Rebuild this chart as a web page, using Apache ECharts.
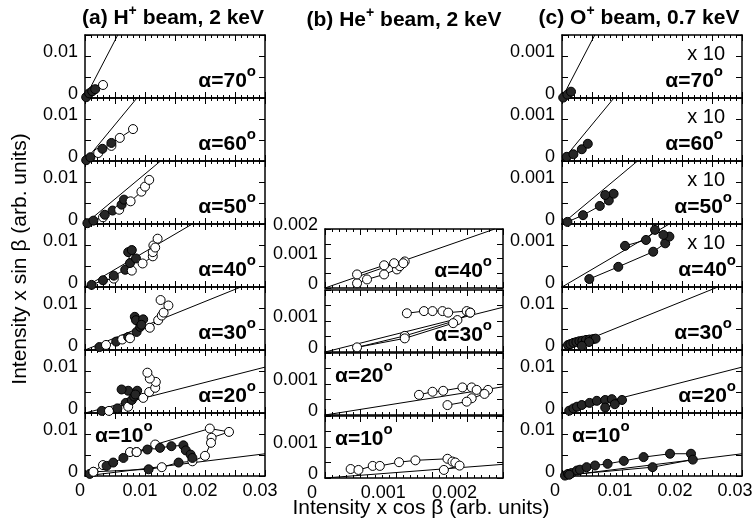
<!DOCTYPE html>
<html><head><meta charset="utf-8">
<script src="https://cdn.jsdelivr.net/npm/echarts@6.0.0/dist/echarts.min.js"></script>
<style>html,body{margin:0;padding:0;background:#fff}#c{width:756px;height:526px}</style>
</head><body><div id="c"></div>
<script>
// ---------- DATA (x, y, filled flag; null = break in trace) ----------
const anglesA = [70, 60, 50, 40, 30, 20, 10];
const anglesB = [40, 30, 20, 10];
const anglesC = [70, 60, 50, 40, 30, 20, 10];

const a70 = [[0.0002,0.0002,1],[0.0007,0.0011,1],[0.0012,0.0016,1],[0.0017,0.0021,1],[0.003,0.0031,0]];
const a60 = [[0.0002,0.0002,1],[0.0009,0.0009,1],[0.0022,0.0019,0],[0.0029,0.0029,1],[0.0044,0.0036,0],[0.0044,0.0043,1],[0.0058,0.0055,0],[0.008,0.0076,0]];
const a50 = [[0.0004,0.0002,1],[0.0014,0.0008,1],[0.003,0.0016,0],[0.0033,0.0022,1],[0.0046,0.0032,1],[0.0057,0.0034,0],[0.0061,0.0046,1],[0.0065,0.0058,1],[0.0076,0.0054,0],[0.0094,0.0077,0],[0.01,0.0089,0],[0.0107,0.0105,0]];
const a40 = [[0.0011,0.0005,1],[0.003,0.0016,1],[0.0048,0.002,0],[0.0048,0.0027,1],[0.0067,0.0041,1],[0.0078,0.0039,0],[0.0075,0.0057,1],[0.0072,0.0083,1],[0.0078,0.0088,1],[0.0085,0.0068,1],[0.0096,0.0056,0],[0.0113,0.0073,0],[0.0113,0.0083,0],[0.0114,0.0099,0],[0.0121,0.0115,0],[0.0117,0.0094,0]];
const a30 = [[0.0024,0.0007,1],[0.0035,0.0012,0],[0.0052,0.002,1],[0.0062,0.0025,0],[0.0072,0.0031,1],[0.0075,0.0028,0],[0.0086,0.0043,1],[0.0092,0.0055,1],[0.0083,0.0079,1],[0.0085,0.0071,1],[0.0097,0.0073,1],[0.0094,0.006,1],[0.0108,0.0053,0],[0.0122,0.0071,0],[0.0128,0.0082,0],[0.0131,0.0089,0],[0.0139,0.0106,0],[0.0126,0.0119,0]];
const a20 = [[0.0028,0.0005,1],[0.004,0.0005,0],[0.0054,0.0011,1],[0.0068,0.0024,1],[0.0072,0.0015,0],[0.0078,0.0031,1],[0.0082,0.0039,1],[0.0087,0.0053,1],[0.0072,0.0053,1],[0.0061,0.0056,1],[0.0084,0.0044,1],[0.0097,0.0036,0],[0.0107,0.005,0],[0.0117,0.006,0],[0.0118,0.0074,0],[0.0108,0.0082,0],[0.0104,0.0096,0]];
const a10 = [[0.0008,0.0005,1],[0.0014,0.001,0],[0.003,0.0026,0],[0.0036,0.0024,1],[0.0047,0.0032,1],[0.0064,0.0043,1],[0.0075,0.0057,0],[0.0086,0.0057,0],[0.0117,0.0075,0],[0.0208,0.0113,0],[0.024,0.0105,0],[0.0211,0.0091,0],[0.021,0.0079,0],[0.02,0.0048,0],[0.0179,0.0035,0],[0.0156,0.0032,1],[0.0128,0.0021,0],[0.0106,0.0016,1],[0.0014,0.001,0],
  null,
  [0.0086,0.0057,0],[0.0104,0.0063,1],[0.0125,0.0067,1],[0.0144,0.0071,1],[0.0164,0.0073,1],[0.0168,0.0061,1],[0.0176,0.0051,1],[0.0179,0.0043,1]];

const b40 = [[0.00045,0.00016,0],[0.00059,0.00029,0],[0.00083,0.00046,0],[0.00101,0.00063,0],[0.00105,0.00074,0],[0.00112,0.0009,0],[0.0011,0.00084,0],[0.00097,0.00084,0],[0.00083,0.00077,0],[0.00045,0.00046,0]];
const b30 = [[0.00115,0.00125,0],[0.00139,0.00132,0],[0.00151,0.00132,0],[0.00165,0.00132,0],[0.00173,0.00127,0],[0.00199,0.00132,0],[0.00204,0.00127,0],[0.00186,0.00103,0],[0.00112,0.00052,0],[0.00045,0.00015,0],[0.00112,0.00044,0],[0.0018,0.00093,0],[0.00204,0.00127,0]];
const b20 = [[0.00132,0.00065,0],[0.00151,0.00075,0],[0.00166,0.00078,0],[0.00193,0.00089,0],[0.00206,0.00089,0],[0.00213,0.00081,0],[0.00229,0.00081,0],[0.00224,0.00068,0],[0.00206,0.00054,0],[0.00199,0.00043,0],[0.00172,0.00032,0]];
const b10 = [[0.00036,0.00029,0],[0.00047,0.00026,0],[0.00067,0.00039,0],[0.00077,0.00039,0],[0.00104,0.00051,0],[0.00127,0.00057,0],[0.00172,0.00062,0],[0.00179,0.00053,0],[0.00183,0.0005,0],[0.00189,0.0004,0],[0.00167,0.00026,0]];

const c70 = [[0.00002,0.00001,1],[0.00009,0.00008,1],[0.00015,0.00015,1]];
const c60 = [[0.00008,0.0001,1],[0.00019,0.00016,1],[0.00033,0.00028,1],[0.00043,0.00041,1]];
const c50 = [[0.00009,0.00005,1],[0.00035,0.00021,1],[0.00063,0.00043,1],[0.00078,0.00056,1],[0.00086,0.00072,1],[0.00072,0.00069,1]];
const c40 = [[0.000455,0.00019,1],[0.000938,0.00048,1],[0.00152,0.00084,1],[0.00172,0.00104,1],[0.00179,0.0012,1],[0.00169,0.00124,1],[0.00155,0.00136,1],[0.0014,0.00112,1],[0.00105,0.00098,1]];
const c30 = [[0.001,0.0012,1],[0.0014,0.0014,1],[0.0019,0.0017,1],[0.0024,0.0019,1],[0.0029,0.0021,1],[0.0034,0.0022,1],[0.004,0.0024,1],[0.0046,0.0025,1],[0.0052,0.0026,1],[0.0056,0.0027,1],[0.0045,0.0019,1],[0.0033,0.001,1]];
const c20 = [[0.0012,0.00055,1],[0.0019,0.0011,1],[0.0025,0.0015,1],[0.0033,0.0019,1],[0.0046,0.0024,1],[0.0058,0.0029,1],[0.0072,0.0031,1],[0.0083,0.0033,1],[0.01,0.0031,1],[0.0088,0.0021,1],[0.0072,0.0013,1]];
const c10 = [[0.0005,0.0001,1],[0.001,0.0005,1],[0.0016,0.0007,1],[0.0025,0.0013,1],[0.003,0.0015,1],[0.0041,0.0021,1],[0.0055,0.0025,1],[0.0076,0.0029,1],[0.0103,0.0036,1],[0.0136,0.0045,1],[0.018,0.0053,1],[0.0215,0.0053,1],[0.0218,0.0039,1],[0.0151,0.0021,1],[0.0012,0.0003,1]];

// reference lines y = x*tan(alpha): end points
const refA = [[0.00546,0.015],[0.00866,0.015],[0.01259,0.015],[0.01788,0.015],[0.02598,0.015],[0.03,0.01092],[0.03,0.00529]];
const refB = [[0.002384,0.002],[0.0025,0.001443],[0.0025,0.00091],[0.0025,0.000441]];
const refC = [[0.000546,0.0015],[0.000866,0.0015],[0.001259,0.0015],[0.001788,0.0015],[0.02598,0.015],[0.03,0.01092],[0.03,0.00529]];

// tick labels
const xTickValsA = [0, 0.01, 0.02, 0.03];
const xTickTextA = ['0', '0.01', '0.02', '0.03'];
const xTickValsB = [0, 0.001, 0.002];
const xTickTextB = ['0', '0.001', '0.002'];
const yTickValsA = [0, 0.01];
const yTickTextA = ['0', '0.01'];
const yTickValsB = [0, 0.001];
const yTickTextB = ['0', '0.001'];
const yTickValsBtop = [0, 0.001, 0.002];
const yTickTextBtop = ['0', '0.001', '0.002'];
const yTickValsCx10 = [0, 0.001];
const yTickTextCx10 = ['0', '0.001'];

// ---------- LAYOUT ----------
const F = '"Liberation Sans", Arial, Helvetica, sans-serif';
const colA = {left: 85, width: 180}, colB = {left: 325, width: 178}, colC = {left: 562, width: 180};
const rowTops = [35, 98, 161, 224, 287, 350, 413], rowH = 63;
const rowTopsB = [229, 290, 353, 416], rowHB = [59, 62, 62, 62];

const grids = [], xAxes = [], yAxes = [], series = [], graphics = [];

function fmt(vals, texts) {
  return function (v) {
    for (let i = 0; i < vals.length; i++) {
      if (Math.abs(v - vals[i]) < 1e-9) return texts[i];
    }
    return '';
  };
}
const tickStyle = {color: '#000', width: 1};
const frameLine = {show: true, onZero: false, lineStyle: {color: '#000', width: 1.5}};

function angleLabel(ang, x, y, align) {
  graphics.push({
    type: 'text', x: x, y: y, z: 100,
    style: {
      text: '{m|α=' + ang + '}{s|o}', align: align, verticalAlign: 'middle',
      rich: {
        m: {fontSize: 21, fontWeight: 'bold', fontFamily: F, fill: '#000', lineHeight: 34},
        s: {fontSize: 15, fontWeight: 'bold', fontFamily: F, fill: '#000', lineHeight: 15, verticalAlign: 'top'}
      }
    }
  });
}

function addPanel(p) {
  const gi = grids.length;
  grids.push({left: p.left, top: p.top, width: p.width, height: p.height, containLabel: false});
  const xBase = {
    gridIndex: gi, type: 'value', min: 0, max: p.xMax, interval: p.xInt,
    axisLine: frameLine, splitLine: {show: false}, minorSplitLine: {show: false},
    axisTick: {show: true, inside: true, length: 6, lineStyle: tickStyle},
    minorTick: {show: true, splitNumber: 5, length: 3, lineStyle: tickStyle}
  };
  xAxes.push(Object.assign({}, xBase, {
    position: 'bottom',
    axisLabel: p.xLabels ? {
      show: true, showMinLabel: true, showMaxLabel: true, margin: 6,
      formatter: fmt(p.xLabels[0], p.xLabels[1]),
      color: '#000', fontSize: 18, fontFamily: F, padding: p.xPad
    } : {show: false}
  }));
  xAxes.push(Object.assign({}, xBase, {position: 'top', axisLabel: {show: false}}));
  const yBase = {
    gridIndex: gi, type: 'value', min: 0, max: p.yMax, interval: p.yInt,
    axisLine: frameLine, splitLine: {show: false},
    axisTick: {show: true, inside: true, length: 6, lineStyle: tickStyle}
  };
  yAxes.push(Object.assign({}, yBase, {
    position: 'left',
    axisLabel: {
      show: true, showMinLabel: true, showMaxLabel: true, margin: 7,
      formatter: fmt(p.yLabels[0], p.yLabels[1]),
      color: '#000', fontSize: 18, fontFamily: F,
      verticalAlign: 'bottom', lineHeight: 8
    }
  }));
  yAxes.push(Object.assign({}, yBase, {position: 'right', axisLabel: {show: false}}));

  series.push({
    type: 'line', xAxisIndex: 2 * gi, yAxisIndex: 2 * gi, z: 2,
    data: [[0, 0], p.ref], symbol: 'none', silent: true,
    lineStyle: {color: '#000', width: 1}
  });
  series.push({
    type: 'line', xAxisIndex: 2 * gi, yAxisIndex: 2 * gi, z: 3,
    connectNulls: false, symbol: 'circle', symbolSize: 9, showAllSymbol: true,
    lineStyle: {color: '#000', width: 1},
    itemStyle: {borderColor: '#000', borderWidth: 1},
    data: p.data.map(d => d === null ? '-' : {value: [d[0], d[1]], itemStyle: {color: d[2] ? '#262626' : '#ffffff', borderColor: '#000', borderWidth: 1}})
  });

  const right = p.left + p.width, bottom = p.top + p.height;
  if (p.labelPos === 'left') angleLabel(p.ang, p.left + 10, p.top + 23, 'left');
  else angleLabel(p.ang, right - p.rOff, bottom - 17, 'right');
  if (p.x10) {
    graphics.push({type: 'text', x: right - 17, y: p.top + 19, z: 100,
      style: {text: 'x 10', align: 'right', verticalAlign: 'middle', fontSize: 20, fontFamily: F, fill: '#000'}});
  }
}

const dataA = [a70, a60, a50, a40, a30, a20, a10];
const dataB = [b40, b30, b20, b10];
const dataC = [c70, c60, c50, c40, c30, c20, c10];
const rOffC = [19, 19, 10, 6, 10, 6, 0];

anglesA.forEach((ang, i) => addPanel({
  left: colA.left, width: colA.width, top: rowTops[i], height: rowH,
  xMax: 0.03, xInt: 0.005, yMax: 0.015, yInt: 0.005,
  xLabels: i === 6 ? [xTickValsA, xTickTextA] : null, xPad: [0, 10, 0, 0],
  yLabels: [yTickValsA, yTickTextA], data: dataA[i], ref: refA[i], ang: ang,
  labelPos: i === 6 ? 'left' : 'right', rOff: 9
}));
anglesB.forEach((ang, i) => addPanel({
  left: colB.left, width: colB.width, top: rowTopsB[i], height: rowHB[i],
  xMax: 0.0025, xInt: 0.0005, yMax: 0.002, yInt: 0.0005,
  xLabels: i === 3 ? [xTickValsB, xTickTextB] : null, xPad: [0, 26, 0, 0],
  yLabels: i === 0 ? [yTickValsBtop, yTickTextBtop] : [yTickValsB, yTickTextB],
  data: dataB[i], ref: refB[i], ang: ang,
  labelPos: i >= 2 ? 'left' : 'right', rOff: 11
}));
anglesC.forEach((ang, i) => {
  const mag = i < 4;
  addPanel({
    left: colC.left, width: colC.width, top: rowTops[i], height: rowH,
    xMax: mag ? 0.003 : 0.03, xInt: mag ? 0.0005 : 0.005,
    yMax: mag ? 0.0015 : 0.015, yInt: mag ? 0.0005 : 0.005,
    xLabels: i === 6 ? [xTickValsA, xTickTextA] : null, xPad: [0, 14, 0, 0],
    yLabels: mag ? [yTickValsCx10, yTickTextCx10] : [yTickValsA, yTickTextA],
    data: dataC[i], ref: refC[i], ang: ang, x10: mag,
    labelPos: i === 6 ? 'left' : 'right', rOff: rOffC[i]
  });
});

// titles
function title(pre, sup, post, x, y) {
  graphics.push({type: 'text', x: x, y: y, z: 100, style: {
    text: '{m|' + pre + '}{s|' + sup + '}{m|' + post + '}', align: 'center', verticalAlign: 'middle',
    rich: {
      m: {fontSize: 21, fontWeight: 'bold', fontFamily: F, fill: '#000', lineHeight: 28},
      s: {fontSize: 14, fontWeight: 'bold', fontFamily: F, fill: '#000', lineHeight: 14, verticalAlign: 'top'}
    }
  }});
}
title('(a) H', '+', ' beam, 2 keV', 173, 18);
title('(b) He', '+', ' beam, 2 keV', 404, 20);
title('(c) O', '+', ' beam, 0.7 keV', 639, 18);

graphics.push({type: 'text', x: 421, y: 508, z: 100, style: {
  text: 'Intensity x cos β (arb. units)', align: 'center', verticalAlign: 'middle',
  fontSize: 21, fontFamily: F, fill: '#000'}});
graphics.push({type: 'text', x: 20, y: 259, rotation: Math.PI / 2, z: 100, style: {
  text: 'Intensity x sin β (arb. units)', align: 'center', verticalAlign: 'middle',
  fontSize: 21, fontFamily: F, fill: '#000'}});

const chart = echarts.init(document.getElementById('c'), null, {renderer: 'canvas'});
chart.setOption({
  animation: false,
  backgroundColor: '#fff',
  grid: grids, xAxis: xAxes, yAxis: yAxes, series: series, graphic: graphics
});
</script>
</body></html>
